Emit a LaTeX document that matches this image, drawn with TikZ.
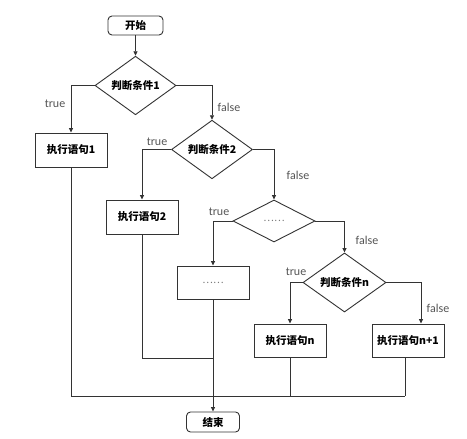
\documentclass[tikz,border=0pt]{standalone}
\usepackage{fontspec}
\setmainfont{Carlito}
\newfontfamily\cjk{Noto Sans CJK SC}
\usetikzlibrary{shapes.geometric,arrows.meta}
\definecolor{ln}{HTML}{333333}
\definecolor{lbl}{HTML}{555555}
\definecolor{dots}{HTML}{777777}
\tikzset{
  every node/.style={font=\cjk\bfseries\fontsize{10.5}{12}\selectfont, text=black},
  term/.style={draw=ln, line width=0.9pt, rounded corners=4pt, minimum width=55pt, minimum height=19pt, inner sep=0pt},
  dec/.style={draw=ln, line width=0.9pt, diamond, inner sep=0pt, minimum width=81pt, minimum height=41pt},
  proc/.style={draw=ln, line width=0.9pt, rectangle, inner sep=0pt, minimum width=72pt, minimum height=34pt},
  lab/.style={font=\fontsize{12}{14}\selectfont, text=lbl},
  dotted text/.style={font=\cjk\fontsize{10}{12}\selectfont, text=dots},
  conn/.style={draw=ln, line width=0.8pt},
  arr/.style={conn, -{Triangle[length=4.5pt,width=4pt]}},
}
\begin{document}
\begin{tikzpicture}[x=1pt,y=-1pt]
\useasboundingbox (0,0) rectangle (467,439);
\fill[white] (0,0) rectangle (467,439);

\node[term] (start) at (135.5,25.5) {开始};
\node[dec] (d1) at (135.5,85.5) {判断条件1};
\node[proc] (b1) at (71,150) {执行语句1};
\node[dec] (d2) at (212,149.5) {判断条件2};
\node[proc] (b2) at (142,217) {执行语句2};
\node[dec, dotted text, minimum width=82pt, minimum height=42pt] (d3) at (274,221) {……};
\node[proc, dotted text, minimum height=33pt] (b3) at (213,282.5) {……};
\node[dec, minimum width=83pt] (dn) at (344.5,282.5) {判断条件n};
\node[proc, minimum height=33pt] (bn) at (290,340.5) {执行语句n};
\node[proc, minimum height=33pt] (bn1) at (408,340.5) {执行语句n+1};
\node[term, minimum width=53pt, minimum height=20pt] (end) at (213,422) {结束};

\coordinate (m1) at (213,358);
\coordinate (m2) at (405,396);

\draw[arr] (start) -- (d1);
\draw[arr] (d1.west) -| (b1.north);
\draw[arr] (d1.east) -| (d2.north);
\draw[arr] (d2.west) -| (b2.north);
\draw[arr] (d2.east) -| (d3.north);
\draw[arr] (d3.west) -| (b3.north);
\draw[arr] (d3.east) -| (dn.north);
\draw[arr] (dn.west) -| (bn.north);
\draw[arr] (dn.east) -| ([xshift=13pt]bn1.north);

\draw[arr] (b3.south) -- (end.north);
\draw[conn] (b2.south) |- (m1);
\draw[conn] (b1.south) |- (m2);
\draw[conn] (bn.south) -- (bn.south |- m2);
\draw[conn] ([xshift=-3pt]bn1.south) -- (m2);

\node[lab] (t1) at (55,104) {true};
\node[lab] (f1) at (229,107) {false};
\node[lab] (t2) at (157,142) {true};
\node[lab] (f2) at (298,175) {false};
\node[lab] (t3) at (219,212) {true};
\node[lab] (f3) at (367,240) {false};
\node[lab] (t4) at (296,272) {true};
\node[lab] (f4) at (438,308) {false};
\end{tikzpicture}
\end{document}
